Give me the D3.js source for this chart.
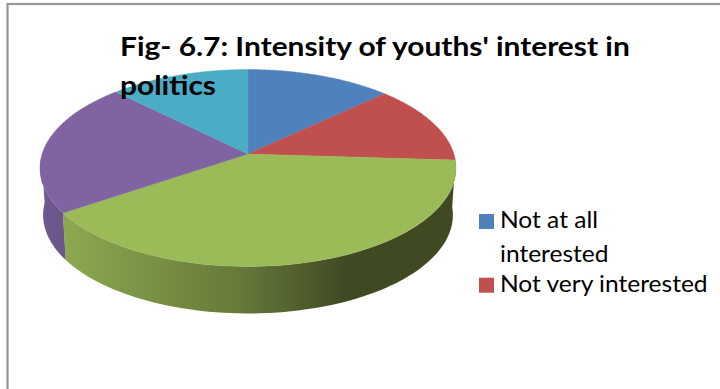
<!DOCTYPE html>
<html>
<head>
<meta charset="utf-8">
<script src="https://cdnjs.cloudflare.com/ajax/libs/d3/7.8.5/d3.min.js"></script>
<style>html,body{margin:0;padding:0;background:#fff;overflow:hidden}svg{display:block}</style>
</head>
<body>
<svg id="chart" width="720" height="389"></svg>
<script>
// Chart data
const titleLines = ["Fig- 6.7: Intensity of youths' interest in", "politics"];
const sliceValues = [13, 13, 39.5, 22, 12.5];
const sliceColors = ["#4F81BD", "#C0504D", "#9BBB59", "#8064A2", "#4BACC6"];
const legendLines = [["Not at all", "interested"], ["Not very interested"]];

const svg = d3.select("#chart");
const defs = svg.append("defs");

// Frame
svg.append("rect").attr("x", 7.5).attr("y", 4).attr("width", 760).attr("height", 460)
  .attr("fill", "#fff").attr("stroke", "#989898").attr("stroke-width", 2.2);

// Perspective projection of the unit disc
const cx = 248, cy = 154, A = 205.9, B = 96.5, K = 0.1421;
const depth = 47, shrink = 0.985;
function project(a, bottom) {
  const u = Math.sin(a), v = -Math.cos(a), w = 1 - K * v;
  const X = A * u / w, Y = B * v / w;
  return bottom ? [cx + X * shrink, cy + Y + depth] : [cx + X, cy + Y];
}
function angles(a0, a1, n) {
  return d3.range(n + 1).map(i => a0 + (a1 - a0) * i / n);
}

const arcs = d3.pie().sort(null).value(d => d)(sliceValues);
const line = d3.line();

// Side walls: front half of the rim only
const wallGrads = {
  2: [["0%", "#8CA94F"], ["45%", "#66793A"], ["72%", "#3F4A23"], ["100%", "#3F4A23"]],
  3: [["0%", "#6A5488"], ["100%", "#6F5A90"]]
};
arcs.forEach((d, i) => {
  const a0 = Math.max(d.startAngle, Math.PI / 2 + 0.02);
  const a1 = Math.min(d.endAngle, 3 * Math.PI / 2 - 0.02);
  if (a1 <= a0 || !wallGrads[i]) return;
  const top = angles(a0, a1, 80).map(a => project(a, false));
  const bot = angles(a1, a0, 80).map(a => project(a, true));
  const xs = top.concat(bot).map(p => p[0]);
  const gid = "wall" + i;
  const g = defs.append("linearGradient").attr("id", gid)
    .attr("gradientUnits", "userSpaceOnUse")
    .attr("x1", i === 2 ? d3.min(xs) : d3.max(xs)).attr("x2", i === 2 ? d3.max(xs) : d3.min(xs))
    .attr("y1", 0).attr("y2", 0);
  wallGrads[i].forEach(s => g.append("stop").attr("offset", s[0]).attr("stop-color", s[1]));
  svg.append("path").attr("d", line(top.concat(bot)) + "Z").attr("fill", `url(#${gid})`);
});

// Top faces
arcs.forEach((d, i) => {
  const rim = angles(d.startAngle, d.endAngle, 120).map(a => project(a, false));
  svg.append("path").attr("d", line([[cx, cy]].concat(rim)) + "Z")
    .attr("fill", sliceColors[i]).attr("stroke", sliceColors[i]).attr("stroke-width", 0.4);
});

// Title (the reference text is horizontally stretched)
const FONT = "Lato, 'Open Sans', sans-serif";
svg.append("g").selectAll("text").data(titleLines).join("text")
  .attr("transform", (d, i) => `translate(120,${56 + i * 39}) scale(1.128,1)`)
  .attr("font-family", FONT).attr("font-weight", 700).attr("font-size", 26.5)
  .attr("fill", "#000").text(d => d);

// Legend
const legendY = [228, 291.7];
const lg = svg.append("g");
legendLines.forEach((lines, i) => {
  lg.append("rect").attr("x", 479).attr("y", legendY[i] - 14).attr("width", 15).attr("height", 15)
    .attr("fill", sliceColors[i]);
  lines.forEach((t, j) => {
    lg.append("text")
      .attr("transform", `translate(500,${legendY[i] + j * 33.7}) scale(1.045,1)`)
      .attr("font-family", FONT).attr("font-size", 23.5).attr("fill", "#000").text(t);
  });
});
</script>
</body>
</html>
